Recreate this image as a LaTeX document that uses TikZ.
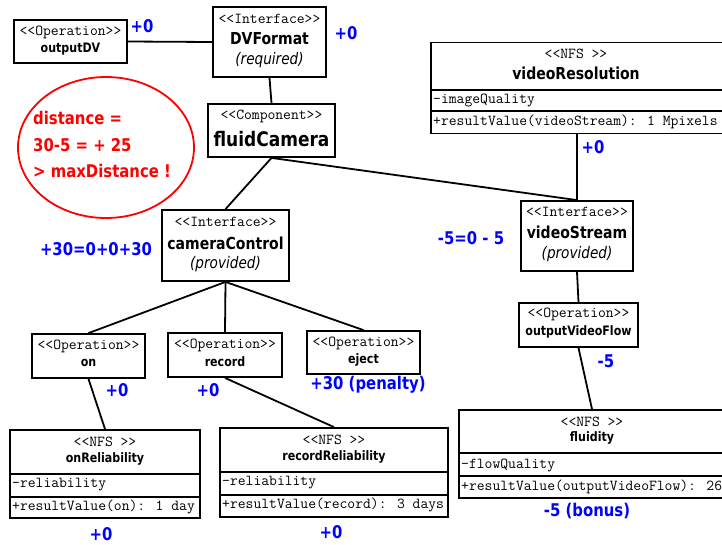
\documentclass[tikz,border=0pt]{standalone}
\usepackage{fontspec}
\setmainfont{DejaVu Sans}[FakeStretch=0.85]
\newcommand\fmono{\ttfamily\fontsize{15.2}{17}\selectfont}
\newcommand\fsmall{\bfseries\fontsize{13}{15}\selectfont}
\newcommand\fmed{\bfseries\fontsize{16.5}{19}\selectfont}
\newcommand\fbig{\bfseries\fontsize{20}{24}\selectfont}
\newcommand\fital{\itshape\fontsize{16}{19}\selectfont}
\newcommand\flab{\bfseries\fontsize{17.5}{20}\selectfont}
\tikzset{
  box/.style={draw=black, line width=1.8pt, fill=white, inner sep=0pt},
  conn/.style={draw=black, line width=1.8pt},
  txt/.style={inner sep=0pt, anchor=center},
  mono/.style={txt, font=\fmono},
  monol/.style={inner sep=0pt, anchor=west, font=\fmono},
  sname/.style={txt, font=\fsmall},
  mname/.style={txt, font=\fmed},
  bname/.style={txt, font=\fbig},
  ital/.style={txt, font=\fital},
  lab/.style={inner sep=0pt, anchor=center, text=blue, font=\flab},
  redtxt/.style={inner sep=0pt, anchor=west, text=red, font=\flab},
}
\begin{document}
\begin{tikzpicture}[x=1pt, y=-1pt]
\useasboundingbox (0,0) rectangle (722,544);
\clip (0,0) rectangle (722,544);
\fill[white] (0,0) rectangle (722,544);

% boxes
\node[box, minimum width=113pt, minimum height=43pt] (outputDV) at (70.5,41.5) {};
\node[box, minimum width=113pt, minimum height=70pt] (DVFormat) at (269.5,42) {};
\node[box, minimum width=127pt, minimum height=53pt] (fluidCamera) at (271.5,130.5) {};
\node[box, minimum width=292pt, minimum height=91pt] (vr) at (577,88) {};
\node[box, minimum width=112pt, minimum height=70pt] (videoStream) at (577,236) {};
\node[box, minimum width=127pt, minimum height=71pt] (cameraControl) at (225.5,245.5) {};
\node[box, minimum width=113pt, minimum height=44pt] (on) at (88.5,356) {};
\node[box, minimum width=114pt, minimum height=44pt] (record) at (225,355) {};
\node[box, minimum width=113pt, minimum height=43pt] (eject) at (363.5,352.5) {};
\node[box, minimum width=119pt, minimum height=44pt] (ovf) at (578.5,325) {};
\node[box, minimum width=190pt, minimum height=88pt] (onRel) at (105,474) {};
\node[box, minimum width=228pt, minimum height=89pt] (recRel) at (334,472.5) {};
\node[box, minimum width=266pt, minimum height=88pt] (fluidity) at (592,454) {};

% connectors
\draw[conn] (outputDV.east) -- (DVFormat.west);
\draw[conn] (DVFormat.south) -- (fluidCamera.north);
\draw[conn] (fluidCamera.south) -- (cameraControl.north);
\draw[conn] (fluidCamera.south) -- (videoStream.north);
\draw[conn] (vr.south) -- (videoStream.north);
\draw[conn] (cameraControl.south) -- (on.north);
\draw[conn] (cameraControl.south) -- (record.north);
\draw[conn] (cameraControl.south) -- (eject.north);
\draw[conn] (on.south) -- (onRel.north);
\draw[conn] (record.south) -- (recRel.north);
\draw[conn] (videoStream.south) -- (ovf.north);
\draw[conn] (ovf.south) -- (fluidity.north);

% dividers
\draw[conn] (vr.west |- 0,90) -- (vr.east |- 0,90);
\draw[conn] (vr.west |- 0,111) -- (vr.east |- 0,111);
\draw[conn] (onRel.west |- 0,474) -- (onRel.east |- 0,474);
\draw[conn] (onRel.west |- 0,497) -- (onRel.east |- 0,497);
\draw[conn] (recRel.west |- 0,472) -- (recRel.east |- 0,472);
\draw[conn] (recRel.west |- 0,495) -- (recRel.east |- 0,495);
\draw[conn] (fluidity.west |- 0,453) -- (fluidity.east |- 0,453);
\draw[conn] (fluidity.west |- 0,476) -- (fluidity.east |- 0,476);

% texts
\node[mono] at (70.5,32) {<<Operation>>};
\node[sname] at (70.5,49) {outputDV};
\node[mono] at (269.5,19) {<<Interface>>};
\node[mname] at (269.5,39) {DVFormat};
\node[ital] at (269.5,60) {(required)};
\node[mono] at (271.5,116) {<<Component>>};
\node[bname] at (271.5,139) {fluidCamera};
\node[mono] at (576,54) {<<NFS >>};
\node[mname] at (576,73) {videoResolution};
\node[monol] at (433,101) {-imageQuality};
\node[monol] at (433,122) {+resultValue(videoStream): 1 Mpixels};
\node[mono] at (577,212) {<<Interface>>};
\node[mname] at (577,232) {videoStream};
\node[ital] at (577,254) {(provided)};
\node[mono] at (225.5,222) {<<Interface>>};
\node[mname] at (225.5,243) {cameraControl};
\node[ital] at (225.5,264) {(provided)};
\node[mono] at (88.5,346) {<<Operation>>};
\node[sname] at (88.5,363) {on};
\node[mono] at (225,345) {<<Operation>>};
\node[sname] at (225,362) {record};
\node[mono] at (363.5,343) {<<Operation>>};
\node[sname] at (363.5,360) {eject};
\node[mono] at (578.5,314) {<<Operation>>};
\node[sname] at (578.5,332) {outputVideoFlow};
\node[mono] at (105,442) {<<NFS >>};
\node[sname] at (105,459) {onReliability};
\node[monol] at (12,485) {-reliability};
\node[monol] at (12,507) {+resultValue(on): 1 day};
\node[mono] at (334,440) {<<NFS >>};
\node[sname] at (334,457) {recordReliability};
\node[monol] at (222,483) {-reliability};
\node[monol] at (222,505) {+resultValue(record): 3 days};
\node[mono] at (592,422) {<<NFS >>};
\node[sname] at (592,438) {fluidity};
\node[monol] at (461,465) {-flowQuality};
\node[monol] at (461,487) {+resultValue(outputVideoFlow): 26};

% blue labels
\node[lab] at (142,26) {+0};
\node[lab] at (346,33) {+0};
\node[lab] at (593,147) {+0};
\node[lab] at (471,238) {-5=0 - 5};
\node[lab] at (96,249) {+30=0+0+30};
\node[lab] at (117,390) {+0};
\node[lab] at (208,390) {+0};
\node[lab] at (368,385) {+30 (penalty)};
\node[lab] at (606,361) {-5};
\node[lab] at (587,511) {-5 (bonus)};
\node[lab] at (101,534) {+0};
\node[lab] at (331,532) {+0};

% red note
\draw[red, line width=1.8pt] (106,147.5) ellipse [x radius=88pt, y radius=70.5pt];
\node[redtxt] (n1) at (33,118) {distance =};
\node[redtxt] (n2) at (33,145) {30-5 = + 25};
\node[redtxt] (n3) at (33,171) {> maxDistance !};
\end{tikzpicture}
\end{document}
